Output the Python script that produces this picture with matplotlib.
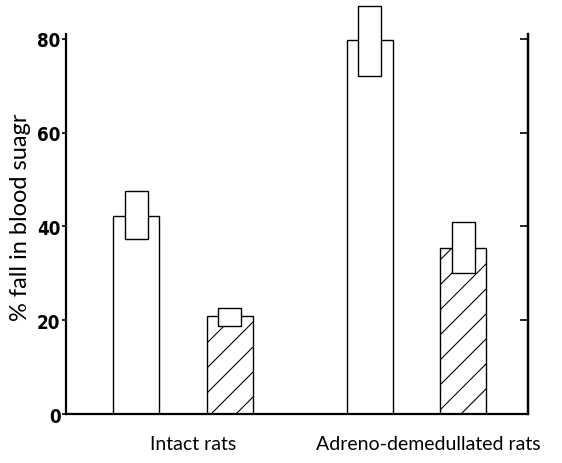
import matplotlib
matplotlib.use("Agg")
import matplotlib.pyplot as plt
from matplotlib.patches import Rectangle
from matplotlib.backend_bases import GraphicsContextBase
from matplotlib.path import Path

# bar values (% fall in blood sugar) and error box limits
groups = ["Intact rats", "Adreno-demedullated rats"]
values = [42.3, 20.8, 79.8, 35.4]
err_low = [37.3, 18.8, 72.1, 30.0]
err_high = [47.6, 22.7, 87.0, 41.0]
hatches = ["", "/", "", "/"]

bar_x = [0.705, 1.64, 3.04, 3.975]
group_x = [1.27, 3.62]
bar_w = 0.46
yticks = [0, 20, 40, 60, 80]


# slightly denser hatch than the default single '/'
def _hatch_path(self, density=8.0):
    h = self.get_hatch()
    if h is None:
        return None
    return Path.hatch(h, 8.0)


GraphicsContextBase.get_hatch_path = _hatch_path

fig = plt.figure(figsize=(5.62, 4.64), dpi=100)
ax = fig.add_axes([0.1174, 0.1056, 0.822, 0.819])

plt.rcParams['hatch.linewidth'] = 0.8
for x, v, h in zip(bar_x, values, hatches):
    ax.bar(x, v, width=bar_w, color="white", edgecolor="black",
           linewidth=1.0, hatch=h, zorder=2)

# error boxes: narrower rectangles centred on the bar top
for x, lo, hi in zip(bar_x, err_low, err_high):
    r = Rectangle((x - bar_w / 4, lo), bar_w / 2, hi - lo,
                  facecolor="white", edgecolor="black", linewidth=1.0,
                  zorder=3, clip_on=False)
    ax.add_patch(r)

ax.set_xlim(0, 4.62)
ax.set_ylim(0, 81)
ax.spines['top'].set_visible(False)
for s in ['left', 'right', 'bottom']:
    ax.spines[s].set_linewidth(1.6)

ax.set_yticks(yticks)
ax.set_yticklabels([str(t) for t in yticks], fontfamily="DejaVu Sans",
                   fontweight="bold", fontsize=13.5, fontstretch="condensed")
ax.tick_params(axis='y', direction='out', length=3, width=1.2, pad=1,
               right=False)
ax2 = ax.secondary_yaxis('right')
ax2.set_yticks([20, 40, 60, 80])
ax2.tick_params(direction='in', length=6, width=1.2, labelright=False)
ax2.spines['right'].set_linewidth(1.6)

ax.set_xticks(group_x)
ax.set_xticklabels(groups, fontsize=14, fontfamily="Lato")
ax.tick_params(axis='x', length=0, pad=15)

ax.set_ylabel("% fall in blood suagr", fontsize=17, fontfamily="Lato")
ax.yaxis.set_label_coords(-0.075, 0.52)

fig.savefig("out.png", dpi=100)
